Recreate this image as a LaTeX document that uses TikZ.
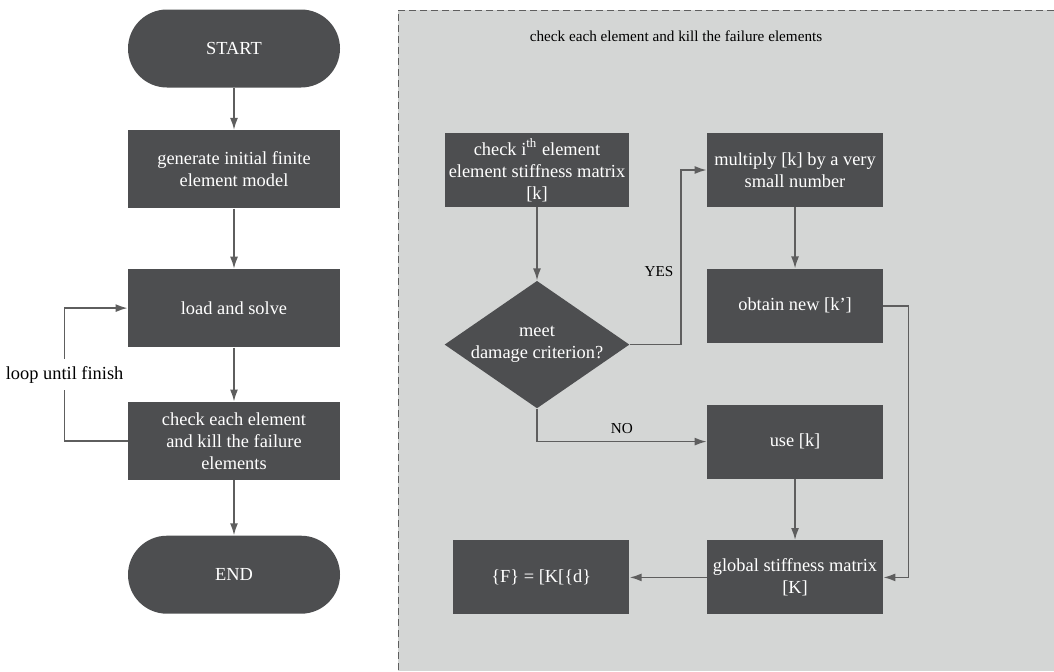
\documentclass[tikz,border=0pt]{standalone}
\usepackage{fontspec}
\setmainfont{Liberation Serif}
\usetikzlibrary{shapes,arrows.meta,positioning}
\definecolor{boxgray}{HTML}{4D4E50}
\definecolor{panelgray}{HTML}{D4D6D5}
\definecolor{linegray}{HTML}{5E5E5E}

\begin{document}
\begin{tikzpicture}[x=0.5pt,y=-0.5pt]
\tikzset{
block/.style={rectangle, fill=boxgray, text=white, minimum width=106pt, minimum height=39pt, inner sep=2pt, align=center, font=\fontsize{9.2}{11}\selectfont},
terminal/.style={block, rounded corners=19.5pt},
stepbox/.style={block, minimum width=88pt, minimum height=37pt},
decision/.style={diamond, fill=boxgray, text=white, aspect=1.45, inner sep=0pt, minimum width=87pt, minimum height=60pt, align=center, font=\fontsize{9.2}{11}\selectfont},
myarrow/.style={->, >={Latex[length=6pt,width=4pt]}, draw=linegray, line width=0.8pt},
mylabel/.style={font=\fontsize{7.6}{9}\selectfont},
}
\useasboundingbox (0,0) rectangle (1054,671);

% dashed panel on the right
\fill[panelgray] (398,10) rectangle (1054,671);
\draw[linegray, line width=0.5pt, dash pattern=on 3.5pt off 2pt] (1054,10) -- (398,10) -- (398,671);
\node [mylabel] (paneltitle) at (676,36) {check each element and kill the failure elements};

% main flow
\node [terminal] (start) at (234,48.5) {START};
\node [block, below=21pt of start] (generate) {generate initial finite\\element model};
\node [block, below=30pt of generate] (loadsolve) {load and solve};
\node [block, below=27pt of loadsolve] (checkall) {check each element\\and kill the failure\\elements};
\node [terminal, below=27.5pt of checkall] (stop) {END};
\draw[myarrow] (start) -- (generate);
\draw[myarrow] (generate) -- (loadsolve);
\draw[myarrow] (loadsolve) -- (checkall);
\draw[myarrow] (checkall) -- (stop);
\draw[myarrow] (checkall.west) -- ++(-31.5pt,0) |- node[pos=0.25, fill=white, font=\fontsize{9.2}{11}\selectfont] {loop until finish} (loadsolve.west);

% element check
\node [stepbox] (checki) at (537,170) {check i\textsuperscript{th} element\\element stiffness matrix\\{[k]}};
\node [decision, below=36.5pt of checki] (meet) {meet\\damage criterion?};
\node [stepbox, right=38.5pt of checki] (multiply) {multiply [k] by a very\\small number};
\node [stepbox, below=30.5pt of multiply] (obtain) {obtain new [k’]};
\node [stepbox, below=30.5pt of obtain] (usek) {use [k]};
\node [stepbox, below=30.5pt of usek] (global) {global stiffness matrix\\{[K]}};
\node [stepbox, left=38.5pt of global] (result) {\{F\} = [K[\{d\}};
\draw[myarrow] (checki) -- (meet);
\draw[myarrow] (meet.east) -- ++(25.5pt,0) |- node[mylabel, pos=0.21, left] {YES} (multiply.west);
\draw[myarrow] (meet.south) |- node[mylabel, pos=0.75, above] {NO} (usek.west);
\draw[myarrow] (multiply) -- (obtain);
\draw[myarrow] (usek) -- (global);
\draw[myarrow] (obtain.east) -- ++(12.5pt,0) |- (global.east);
\draw[myarrow] (global) -- (result);
\end{tikzpicture}
\end{document}
